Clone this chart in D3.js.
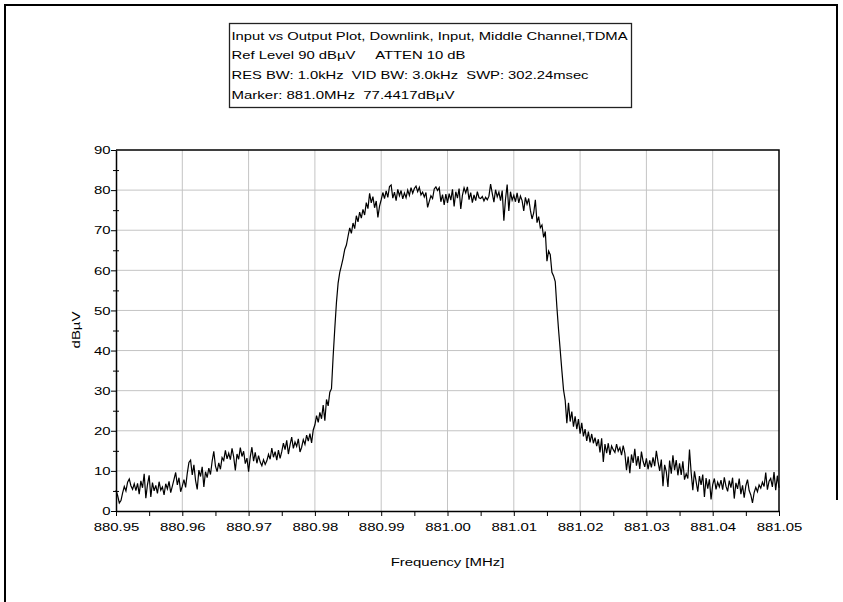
<!DOCTYPE html>
<html>
<head>
<meta charset="utf-8">
<script src="https://cdnjs.cloudflare.com/ajax/libs/d3/7.8.5/d3.min.js"></script>
<style>
  body { margin: 0; background: white; }
  text { font-family: "Liberation Sans", Arial, sans-serif; font-size: 11.5px; fill: #000; }
</style>
</head>
<body>
<script>
// sweep span (MHz)
var sweepStart = 880.95;
var sweepStop = 881.05;

// trace level in dBuV, one value per sweep point
var levels = [
  5.2, 3.8, 2.0, 2.6, 4.5, 6.1, 5.0, 7.2, 8.0, 6.3, 5.4, 6.8, 5.1, 6.9, 4.2, 7.5, 5.8, 9.3, 3.2, 6.6,
  8.9, 3.5, 7.1, 5.0, 6.4, 4.4, 7.3, 5.2, 6.0, 4.0, 6.8, 5.5, 7.4, 4.6, 6.2, 7.9, 9.6, 6.5, 8.3, 4.8,
  6.2, 7.8, 5.9, 9.4, 12.1, 12.7, 9.0, 11.5, 7.6, 5.4, 10.2, 8.6, 11.0, 6.0, 9.8, 8.3, 10.7, 9.1, 12.4, 14.9,
  11.2, 9.8, 12.0, 10.4, 13.3, 12.6, 15.1, 13.0, 14.4, 12.8, 15.6, 13.5, 10.1, 14.2, 12.9, 15.8, 13.6, 14.9, 11.8, 13.2,
  9.8, 13.5, 15.9, 12.4, 14.6, 11.9, 13.8, 12.2, 11.3, 12.8, 11.6, 12.5, 14.1, 12.9, 15.7, 13.4, 14.8, 12.7, 15.2, 13.1,
  14.8, 16.9, 15.3, 17.6, 14.2, 16.5, 18.4, 15.6, 17.2, 16.1, 18.0, 14.7, 15.9, 17.8, 16.6, 18.9, 17.4, 19.3, 17.0, 20.2,
  21.5, 23.8, 22.1, 24.6, 23.0, 26.4, 22.5, 27.8, 26.2, 29.6, 30.5, 38.5, 45.5, 52.0, 56.8, 59.5, 61.2, 63.0, 65.2, 66.3,
  68.5, 70.6, 69.2, 71.8, 70.4, 73.6, 72.1, 74.5, 73.0, 75.2, 73.8, 76.9, 75.4, 79.2, 76.8, 78.4, 75.6, 77.3, 73.2, 76.0,
  77.6, 79.4, 77.9, 79.8, 78.2, 80.9, 81.3, 78.0, 79.5, 77.4, 80.2, 78.6, 79.9, 77.8, 79.3, 78.1, 80.0, 78.7, 80.6, 79.2,
  80.4, 81.0, 79.6, 80.7, 78.8, 79.5, 78.3, 79.4, 75.7, 77.2, 78.6, 77.9, 80.3, 80.8, 79.9, 80.6, 77.1, 78.9, 76.3, 79.0,
  76.8, 79.1, 77.5, 80.2, 75.9, 79.6, 78.0, 80.4, 75.3, 78.7, 80.6, 79.3, 80.8, 77.6, 79.4, 76.9, 78.8, 77.4, 79.6, 78.1,
  77.9, 78.4, 77.3, 78.2, 77.6, 78.5, 81.5, 79.2, 77.0, 80.1, 78.3, 79.5, 77.4, 79.9, 72.4, 77.8, 81.4, 74.8, 79.6, 77.5,
  78.7, 77.1, 79.3, 76.8, 78.5, 77.4, 74.8, 78.2, 76.5, 77.9, 75.0, 72.8, 74.3, 77.6, 71.9, 73.4, 70.6, 71.3, 68.2, 69.7,
  62.3, 64.8, 63.9, 59.5, 58.6, 57.2, 50.8, 45.2, 40.1, 35.0, 30.2, 27.6, 21.9, 27.0, 22.3, 24.8, 21.0, 23.6, 20.4, 22.9,
  19.3, 22.0, 18.6, 20.4, 17.5, 19.8, 17.1, 19.2, 16.9, 18.3, 16.2, 17.9, 14.6, 18.1, 12.2, 16.7, 14.4, 16.9, 14.0, 16.2,
  15.3, 14.6, 16.7, 14.9, 15.8, 13.9, 16.3, 14.4, 10.2, 13.6, 9.4, 14.1, 12.0, 15.5, 11.3, 13.7, 10.5, 14.8, 12.4, 11.0,
  13.1, 10.4, 12.6, 10.9, 13.4, 11.2, 15.0, 12.3, 10.0, 12.8, 6.2, 11.5, 9.8, 6.0, 12.6, 9.3, 13.9, 10.2, 12.7, 8.9,
  11.9, 9.0, 12.4, 7.8, 9.3, 8.1, 15.3, 9.6, 5.2, 9.9, 7.3, 4.8, 8.7, 6.5, 9.1, 3.5, 8.2, 5.6, 7.9, 2.9,
  6.6, 8.1, 5.4, 7.2, 6.0, 7.7, 5.3, 8.4, 6.2, 4.9, 7.6, 5.8, 8.3, 3.1, 7.0, 5.5, 8.1, 4.2, 6.4, 3.3,
  6.3, 7.8, 5.1, 4.0, 2.0, 4.6, 5.9, 4.8, 6.5, 5.7, 7.2, 6.1, 9.6, 5.3, 7.4, 8.1, 6.0, 9.7, 5.2, 8.8,
  5.8
];

var xTicks = [880.95, 880.96, 880.97, 880.98, 880.99, 881.00, 881.01, 881.02, 881.03, 881.04, 881.05];
var xMinorTicks = [880.955, 880.965, 880.975, 880.985, 880.995, 881.005, 881.015, 881.025, 881.035, 881.045];
var yTicks = [0, 10, 20, 30, 40, 50, 60, 70, 80, 90];
var yMinorTicks = [5, 15, 25, 35, 45, 55, 65, 75, 85];

var infoLines = [
  "Input vs Output Plot, Downlink, Input, Middle Channel,TDMA",
  "Ref Level 90 dB\u00b5V     ATTEN 10 dB",
  "RES BW: 1.0kHz  VID BW: 3.0kHz  SWP: 302.24msec",
  "Marker: 881.0MHz  77.4417dB\u00b5V"
];
var infoWidths = [396, 234, 357, 223];

var width = 843, height = 602;
var plot = { left: 116, right: 779, top: 150, bottom: 511 };
var stretch = 1.3; // the original text is drawn wide

var svg = d3.select("body").append("svg")
  .attr("width", width)
  .attr("height", height)
  .style("background", "white");

// outer frame
svg.append("path")
  .attr("d", "M5,602 L5,5 L837,5 L837,500")
  .attr("fill", "none")
  .attr("stroke", "#000")
  .attr("stroke-width", 2);

// info box
svg.append("rect")
  .attr("x", 229.5).attr("y", 23.5)
  .attr("width", 402).attr("height", 84)
  .attr("fill", "white")
  .attr("stroke", "#222")
  .attr("stroke-width", 1.3);

svg.selectAll(".info")
  .data(infoLines)
  .enter()
  .append("text")
  .attr("class", "info")
  .attr("x", 231.5)
  .attr("y", function(d, i) { return 39.5 + i * 19.7; })
  .attr("textLength", function(d, i) { return infoWidths[i]; })
  .attr("lengthAdjust", "spacingAndGlyphs")
  .style("white-space", "pre")
  .text(function(d) { return d; });

// scales
var xScale = d3.scaleLinear()
  .domain([sweepStart, sweepStop])
  .range([plot.left, plot.right]);

var yScale = d3.scaleLinear()
  .domain([0, 90])
  .range([plot.bottom, plot.top]);

// grid
svg.append("g")
  .selectAll("line")
  .data(xTicks.slice(1, -1))
  .enter()
  .append("line")
  .attr("x1", function(d) { return xScale(d); })
  .attr("x2", function(d) { return xScale(d); })
  .attr("y1", plot.top)
  .attr("y2", plot.bottom)
  .attr("stroke", "#c4c4c4")
  .attr("stroke-width", 1);

svg.append("g")
  .selectAll("line")
  .data(yTicks.slice(1, -1))
  .enter()
  .append("line")
  .attr("x1", plot.left)
  .attr("x2", plot.right)
  .attr("y1", function(d) { return yScale(d); })
  .attr("y2", function(d) { return yScale(d); })
  .attr("stroke", "#c4c4c4")
  .attr("stroke-width", 1);

// plot frame (top and right)
svg.append("path")
  .attr("d", "M" + plot.left + "," + plot.top + " L" + plot.right + "," + plot.top + " L" + plot.right + "," + plot.bottom)
  .attr("fill", "none")
  .attr("stroke", "#000")
  .attr("stroke-width", 1.5);

// trace
var freqStep = (sweepStop - sweepStart) / (levels.length - 1);
var line = d3.line()
  .x(function(d, i) { return xScale(sweepStart + i * freqStep); })
  .y(function(d) { return yScale(d); });

svg.append("path")
  .datum(levels)
  .attr("d", line)
  .attr("fill", "none")
  .attr("stroke", "#000")
  .attr("stroke-width", 1.2);

// x axis
var xAxis = svg.append("g")
  .attr("transform", "translate(0," + plot.bottom + ")")
  .call(d3.axisBottom(xScale).tickValues(xTicks).tickFormat(d3.format(".2f")).tickSize(5).tickPadding(7).tickSizeOuter(0));
svg.append("g")
  .attr("transform", "translate(0," + plot.bottom + ")")
  .call(d3.axisBottom(xScale).tickValues(xMinorTicks).tickFormat("").tickSize(5).tickSizeOuter(0))
  .select(".domain").remove();

// y axis
var yAxis = svg.append("g")
  .attr("transform", "translate(" + plot.left + ",0)")
  .call(d3.axisLeft(yScale).tickValues(yTicks).tickSize(5).tickSizeOuter(0));
svg.append("g")
  .attr("transform", "translate(" + (plot.left + 3) + ",0)")
  .call(d3.axisLeft(yScale).tickValues(yMinorTicks).tickFormat("").tickSize(6).tickSizeOuter(0))
  .select(".domain").remove();

svg.selectAll(".domain").attr("stroke", "#000").attr("stroke-width", 1.5);
svg.selectAll(".tick line").attr("stroke", "#000");
svg.selectAll(".tick text")
  .style("font-family", "'Liberation Sans', Arial, sans-serif")
  .style("font-size", "11.5px");

xAxis.selectAll(".tick text")
  .attr("transform", "scale(" + stretch + ",1)");
yAxis.selectAll(".tick text")
  .attr("x", -5.5 / stretch)
  .attr("transform", "scale(" + stretch + ",1)");

// axis labels
svg.append("text")
  .attr("transform", "translate(" + (plot.left + plot.right) / 2 + ",566) scale(" + stretch + ",1)")
  .attr("text-anchor", "middle")
  .text("Frequency [MHz]");

svg.append("text")
  .attr("transform", "translate(80,330) rotate(-90) scale(" + stretch + ",1)")
  .attr("text-anchor", "middle")
  .text("dB\u00b5V");
</script>
</body>
</html>
